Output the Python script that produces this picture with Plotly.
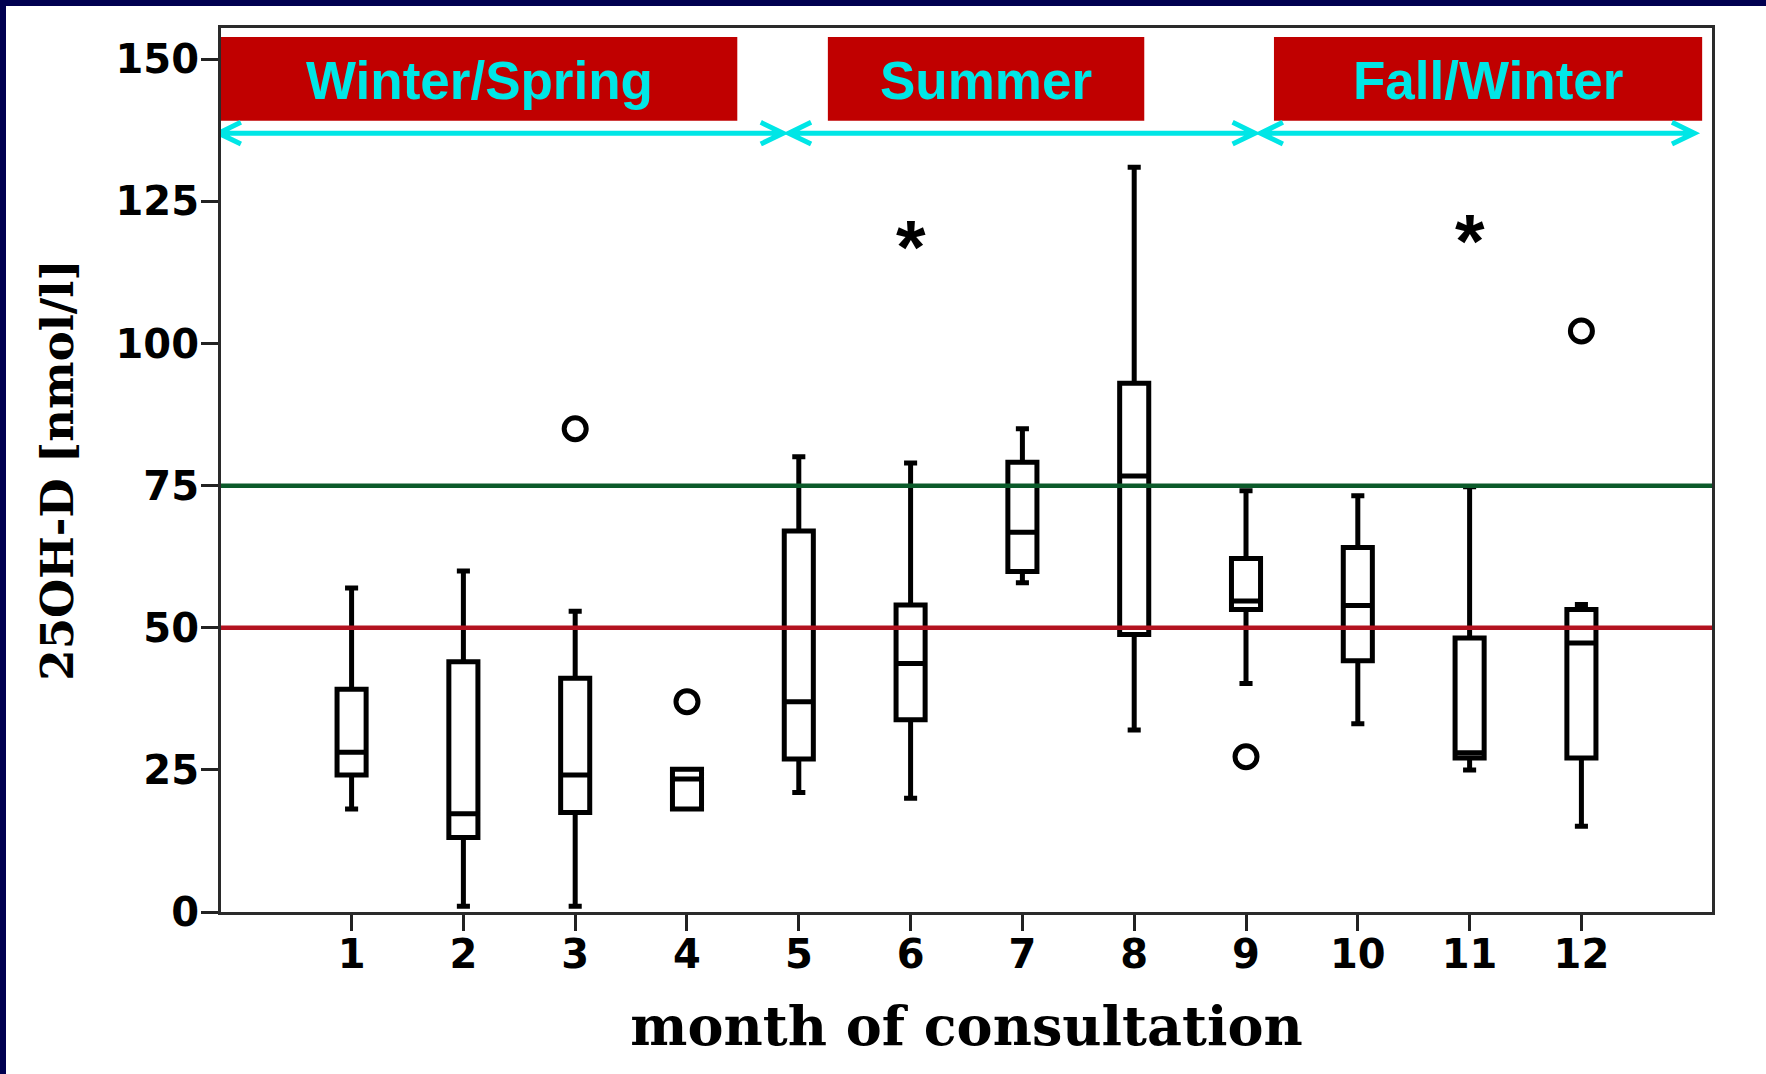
import plotly.graph_objects as go

# ---------------- data ----------------
months = [1, 2, 3, 4, 5, 6, 7, 8, 9, 10, 11, 12]
month_labels = ["1", "2", "3", "4", "5", "6", "7", "8", "9", "10", "11", "12"]
whisker_low = [18.1, 1.0, 1.0, 18.1, 21.0, 20.0, 57.9, 32.0, 40.2, 33.1, 25.0, 15.1]
q1_vals = [24.1, 13.1, 17.5, 18.1, 26.9, 33.8, 59.9, 48.8, 53.2, 44.2, 27.1, 27.1]
median_vals = [28.1, 17.3, 24.1, 23.4, 37.0, 43.7, 66.8, 76.7, 54.7, 53.9, 28.0, 47.3]
q3_vals = [39.2, 44.0, 41.1, 25.1, 67.0, 54.0, 79.1, 93.0, 62.2, 64.1, 48.2, 53.2]
whisker_high = [57.0, 60.0, 52.9, 25.1, 80.1, 79.0, 85.0, 131.0, 74.1, 73.2, 74.8, 54.1]

circle_out_month = [3, 4, 9, 12]
circle_out_value = [85.0, 37.0, 27.3, 102.2]
extreme_out_month = [6, 11]
extreme_out_value = [118.9, 119.9]

ref_values = [75, 50]
ref_colors = ["#0b5a2a", "#b3121f"]

season_names = ["Winter/Spring", "Summer", "Fall/Winter"]

y_ticks = [0, 25, 50, 75, 100, 125, 150]

# ---------------- layout constants ----------------
W, H = 1766, 1074
ML, MR, MT, MB = 221, 54, 28, 162
PW, PH = W - ML - MR, H - MT - MB
X_RANGE = [-0.168, 13.168]
Y_RANGE = [0, 155.5]

band_x0 = [-0.17, 5.26, 9.25]
band_x1 = [4.45, 8.09, 13.08]
band_y0, band_y1 = 139.2, 153.9
arrow_x0 = [-0.19, 4.91, 9.13]
arrow_x1 = [4.86, 9.08, 13.01]
arrow_y = 137.0
chev_dx, chev_dy = 0.2, 1.9

CYAN = "#00e6e6"
BAND_RED = "#c00000"
NAVY = "#000050"

fig = go.Figure()

fig.add_trace(go.Box(
    x=months,
    q1=q1_vals, median=median_vals, q3=q3_vals,
    lowerfence=whisker_low, upperfence=whisker_high,
    width=0.26, whiskerwidth=0.45,
    fillcolor="white",
    line=dict(color="black", width=5),
    boxpoints=False, hoverinfo="skip", showlegend=False,
))

fig.add_trace(go.Scatter(
    x=circle_out_month, y=circle_out_value, mode="markers",
    marker=dict(symbol="circle-open", size=22, color="black", line=dict(width=5, color="black")),
    showlegend=False, hoverinfo="skip",
))

shapes = []
# reference lines (drawn above boxes)
for v, c in zip(ref_values, ref_colors):
    shapes.append(dict(type="line", xref="paper", yref="y", x0=0, x1=1, y0=v, y1=v,
                       line=dict(color=c, width=4.5), layer="above"))

annotations = []
for m, v in zip(extreme_out_month, extreme_out_value):
    annotations.append(dict(x=m, y=v, xref="x", yref="y", text="<b>*</b>", showarrow=False,
                            font=dict(family="Liberation Sans", size=76, color="black"),
                            yshift=-10))

# season bands, labels, arrows
for name, bx0, bx1, ax0, ax1 in zip(season_names, band_x0, band_x1, arrow_x0, arrow_x1):
    shapes.append(dict(type="rect", xref="x", yref="y", x0=bx0, x1=bx1, y0=band_y0, y1=band_y1,
                       fillcolor=BAND_RED, line=dict(width=0), layer="above"))
    annotations.append(dict(x=(bx0 + bx1) / 2, y=(band_y0 + band_y1) / 2, xref="x", yref="y",
                            text=f"<b>{name}</b>", showarrow=False, yshift=-2,
                            font=dict(family="Liberation Sans", size=53, color=CYAN)))
    path = (f"M {ax0},{arrow_y} L {ax1},{arrow_y} "
            f"M {ax0 + chev_dx},{arrow_y + chev_dy} L {ax0},{arrow_y} L {ax0 + chev_dx},{arrow_y - chev_dy} "
            f"M {ax1 - chev_dx},{arrow_y + chev_dy} L {ax1},{arrow_y} L {ax1 - chev_dx},{arrow_y - chev_dy}")
    shapes.append(dict(type="path", xref="x", yref="y", path=path,
                       line=dict(color=CYAN, width=5), layer="above"))

# navy frame on top and left edges of the page
shapes.append(dict(type="rect", xref="paper", yref="paper",
                   x0=-ML / PW, x1=(-ML + 6) / PW, y0=-MB / PH, y1=(PH + MT) / PH,
                   fillcolor=NAVY, line=dict(width=0), layer="above"))
shapes.append(dict(type="rect", xref="paper", yref="paper",
                   x0=-ML / PW, x1=(W - ML) / PW, y0=(PH + MT - 6) / PH, y1=(PH + MT) / PH,
                   fillcolor=NAVY, line=dict(width=0), layer="above"))

fig.update_layout(
    width=W, height=H,
    margin=dict(l=ML, r=MR, t=MT, b=MB, pad=0),
    paper_bgcolor="white", plot_bgcolor="white",
    template="none",
    shapes=shapes, annotations=annotations,
    showlegend=False,
)

fig.update_xaxes(
    range=X_RANGE, tickmode="array", tickvals=months, ticktext=month_labels,
    ticks="outside", ticklen=16, tickwidth=2.5, tickcolor="#222",
    showline=True, linecolor="#2a2a2a", linewidth=3, mirror=True,
    showgrid=False, zeroline=False, automargin=False,
    tickfont=dict(family="DejaVu Sans", size=40, color="black", weight="bold"),
    ticklabelstandoff=-11,
    title=dict(text="<b>month of consultation</b>",
               font=dict(family="DejaVu Serif", size=54, color="black"), standoff=32),
)
fig.update_yaxes(
    range=Y_RANGE, tickmode="array", tickvals=y_ticks, ticktext=[str(t) for t in y_ticks],
    ticks="outside", ticklen=17, tickwidth=2.5, tickcolor="#222",
    showline=True, linecolor="#2a2a2a", linewidth=3, mirror=True,
    showgrid=False, zeroline=False, automargin=False,
    tickfont=dict(family="DejaVu Sans", size=40, color="black", weight="bold"),
    ticklabelstandoff=-6,
    title=dict(text="<b>25OH-D [nmol/l]</b>",
               font=dict(family="DejaVu Serif", size=45, color="black"), standoff=28),
)

fig.write_html("out.html")
